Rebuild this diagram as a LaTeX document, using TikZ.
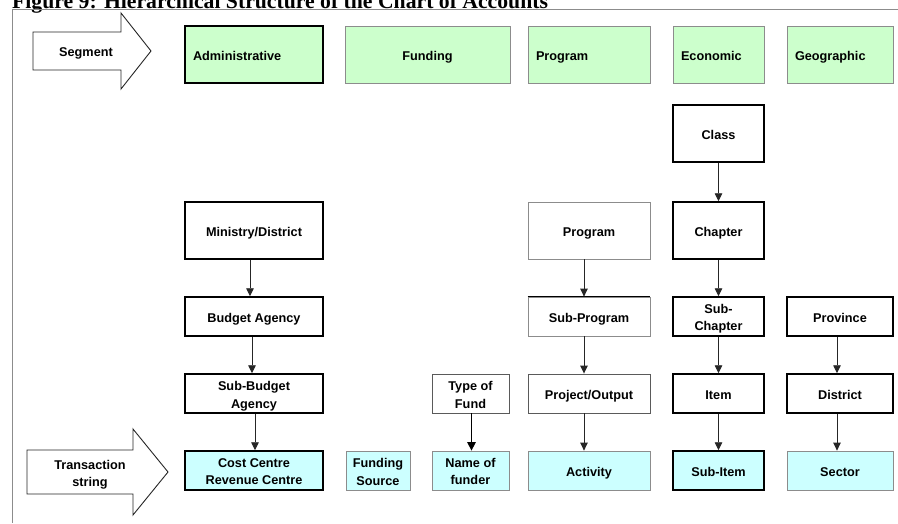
\documentclass[tikz,border=0pt]{standalone}
\usepackage{fontspec}
\setmainfont{Liberation Sans}
\newfontfamily\titlefont{Liberation Serif}
\usetikzlibrary{arrows.meta}
\definecolor{segfill}{HTML}{CCFFCC}
\definecolor{txfill}{HTML}{CCFFFF}
\definecolor{thinline}{HTML}{8C8C8C}
\definecolor{midline}{HTML}{5A5A5A}
% strut that keeps every line of box text on the same vertical grid
\newcommand\boxstrut{\rule[-2.55pt]{0pt}{17pt}}
% two centred lines, 17pt apart, each carrying the strut
\newcommand\pairtext[2]{\vbox{\halign{\hfil##\hfil\cr\boxstrut#1\cr\boxstrut#2\cr}}}
\begin{document}
\begin{tikzpicture}[x=1pt,y=-1pt,
  box/.style={draw, minimum height=39pt, inner sep=0pt, align=center,
    font=\bfseries\fontsize{12.7}{17}\selectfont, text=black,
    execute at begin node=\boxstrut, execute at end node=\boxstrut},
  heavy/.style={box, draw=black, line width=1.5pt},
  light/.style={box, draw=thinline, line width=0.8pt},
  medium/.style={box, draw=midline, line width=0.9pt},
  seg/.style={fill=segfill, minimum height=57pt},
  tx/.style={fill=txfill},
  tall/.style={minimum height=57pt},
  lefttext/.style={align=left, text width=#1, inner xsep=8pt},
  arr/.style={draw=black!85, line width=0.9pt, -{Triangle[width=7.5pt,length=8pt]}},
  boldarr/.style={draw=black, line width=1.4pt, -{Triangle[width=8.5pt,length=8.5pt]}},
  bigarrow/.style={draw=black!85, line width=0.9pt, fill=white},
  arrowtext/.style={align=center, inner sep=0pt, font=\bfseries\fontsize{12.7}{17}\selectfont,
    execute at begin node=\boxstrut, execute at end node=\boxstrut}
]
\useasboundingbox (0,0) rectangle (898,523);
\clip (0,0) rectangle (898,523);
\fill[white] (0,0) rectangle (898,523);

% heading and frame
\node[anchor=base west, inner sep=0pt,
  font=\titlefont\bfseries\fontsize{21.7}{26}\selectfont] (title) at (12,8.5)
  {Figure 9: Hierarchical Structure of the Chart of Accounts};
\draw[thinline, line width=0.9pt] (898,9.8) -- (12,9.8) -- (12,523);

% block arrows
\draw[bigarrow] (33,32) -- (121,32) -- (121,13) -- (151,51) -- (121,89) -- (121,70) -- (33,70) -- cycle;
\node[arrowtext] (segtxt) at (86,51) {Segment};
\draw[bigarrow] (27,450) -- (133,450) -- (133,429) -- (168,472) -- (133,515) -- (133,494) -- (27,494) -- cycle;
\node[arrowtext] (txtxt) at (90,472) {\pairtext{Transaction}{string}};

% segment row
\node[heavy, seg, lefttext=122pt] (adm) at (254,54.5) {Administrative};
\node[light, seg, minimum width=165pt] (fund) at (427.5,54.5) {Funding};
\node[light, seg, lefttext=106pt] (prog) at (589,54.5) {Program};
\node[light, seg, lefttext=75pt] (econ) at (718.5,54.5) {Economic};
\node[light, seg, lefttext=90pt] (geo) at (840,54.5) {Geographic};

% hierarchy levels
\node[heavy, tall, minimum width=91pt] (class) at (718.5,133.5) {Class};

\node[heavy, tall, minimum width=138pt] (mindis) at (254,230.5) {Ministry/District};
\node[light, tall, minimum width=122pt] (progb) at (589,230.5) {Program};
\node[heavy, tall, minimum width=91pt] (chap) at (718.5,230.5) {Chapter};

\node[heavy, minimum width=138pt] (bagency) at (254,316.5) {Budget Agency};
\node[light, minimum width=122pt] (subprog) at (589,316.5) {Sub-Program};
\draw[black, line width=1pt] (subprog.north west) -- (subprog.north east);
\node[heavy, minimum width=91pt] (subchap) at (718.5,316.5) {\pairtext{Sub-}{Chapter}};
\node[heavy, minimum width=106pt] (prov) at (840,316.5) {Province};

\node[heavy, minimum width=138pt] (subbud) at (254,393.5) {\pairtext{Sub-Budget}{Agency}};
\node[medium, minimum width=77pt] (typefund) at (470.5,393.5) {\pairtext{Type of}{Fund}};
\node[medium, minimum width=122pt] (projout) at (589,393.5) {Project/Output};
\node[heavy, minimum width=91pt] (item) at (718.5,393.5) {Item};
\node[heavy, minimum width=106pt] (dist) at (840,393.5) {District};

% transaction string row
\node[heavy, tx, minimum width=138pt] (costc) at (254,470.5) {\pairtext{Cost Centre}{Revenue Centre}};
\node[light, tx, minimum width=64pt] (fsource) at (378,470.5) {\pairtext{Funding}{Source}};
\node[light, tx, minimum width=77pt] (namef) at (470.5,470.5) {\pairtext{Name of}{funder}};
\node[light, tx, minimum width=122pt] (activity) at (589,470.5) {Activity};
\node[heavy, tx, minimum width=91pt] (subitem) at (718.5,470.5) {Sub-Item};
\node[light, tx, minimum width=106pt] (sector) at (840,470.5) {Sector};

% connectors
\draw[arr] ([xshift=-4pt]mindis.south) -- ([xshift=-4pt]bagency.north);
\draw[arr] ([xshift=-2pt]bagency.south) -- ([xshift=-2pt]subbud.north);
\draw[arr] ([xshift=1pt]subbud.south) -- ([xshift=1pt]costc.north);
\draw[boldarr] ([xshift=1pt]typefund.south) -- ([xshift=1pt]namef.north);
\draw[arr] ([xshift=-5pt]progb.south) -- ([xshift=-5pt]subprog.north);
\draw[arr] ([xshift=-5pt]subprog.south) -- ([xshift=-5pt]projout.north);
\draw[arr] ([xshift=-5pt]projout.south) -- ([xshift=-5pt]activity.north);
\draw[arr] (class.south) -- (chap.north);
\draw[arr] (chap.south) -- (subchap.north);
\draw[arr] (subchap.south) -- (item.north);
\draw[arr] (item.south) -- (subitem.north);
\draw[arr] ([xshift=-3pt]prov.south) -- ([xshift=-3pt]dist.north);
\draw[arr] ([xshift=-3pt]dist.south) -- ([xshift=-3pt]sector.north);
\end{tikzpicture}
\end{document}
